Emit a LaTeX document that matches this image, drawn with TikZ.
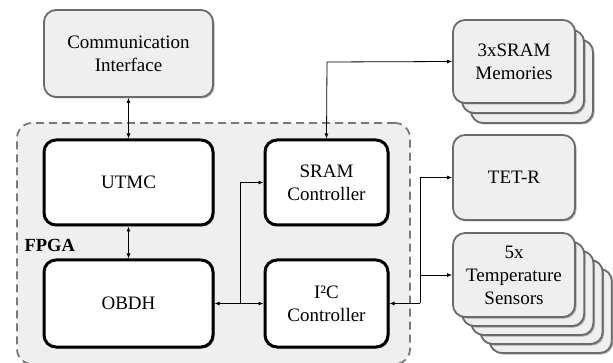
\documentclass[tikz,border=0pt]{standalone}
\usepackage{fontspec}
\setmainfont{Liberation Serif}
\usetikzlibrary{arrows.meta,shadows}
\definecolor{boxfill}{HTML}{EFEFEF}
\definecolor{boxline}{HTML}{6B6B6B}
\definecolor{dashline}{HTML}{7A7A7A}
\begin{document}
\begin{tikzpicture}[x=1pt,y=-1pt,
  txt/.style={font=\fontsize{19}{23}\selectfont, align=center},
  graybox/.style={txt, draw=boxline, fill=boxfill, line width=1.8pt, rounded corners=12pt,
     drop shadow={shadow xshift=1.5pt, shadow yshift=-1.5pt, opacity=0.3, fill=black}},
  blackbox/.style={txt, draw=black, fill=white, line width=3pt, rounded corners=12pt,
     drop shadow={shadow xshift=1.5pt, shadow yshift=-1.5pt, opacity=0.3, fill=black}},
  conn/.style={line width=0.8pt, {Latex[length=5pt,width=4pt]}-{Latex[length=5pt,width=4pt]}},
  oneway/.style={line width=0.8pt, -{Latex[length=5pt,width=4pt]}},
  plain/.style={line width=0.8pt}
]
\useasboundingbox (0,0) rectangle (613,363);
\begin{scope}
\clip (0,0) rectangle (613,363);
% FPGA region
\node[draw=dashline, fill=boxfill, line width=1.8pt, dash pattern=on 8pt off 5pt,
      rounded corners=15pt, minimum width=393pt, minimum height=241pt, inner sep=0pt]
      (fpga) at (213.5,243.5) {};
\end{scope}
\node[font=\fontsize{18.5}{22}\selectfont\bfseries, anchor=west] (fpgalabel) at (21,245) {FPGA};

% Communication interface
\node[graybox, minimum width=169pt, minimum height=87pt] (comm) at (128.5,53.5) {Communication\\Interface};

% inner blocks
\node[blackbox, minimum width=169pt, minimum height=85pt] (utmc) at (128.5,182.5) {UTMC};
\node[blackbox, minimum width=169pt, minimum height=87pt] (obdh) at (128.5,303.5) {OBDH};
\node[blackbox, minimum width=123pt, minimum height=85pt] (sramc) at (326.5,182.5) {SRAM\\Controller};
\node[blackbox, minimum width=123pt, minimum height=87pt] (i2c) at (326.5,303.5) {I²C\\Controller};

% SRAM memories stack
\foreach \k in {2,1} {
  \node[graybox, minimum width=122pt, minimum height=83pt] (mem\k) at (514+9*\k,61.5+10*\k) {};
}
\node[graybox, minimum width=122pt, minimum height=83pt] (mem) at (514,61.5) {3xSRAM\\Memories};

% TET-R
\node[graybox, minimum width=122pt, minimum height=85pt] (tetr) at (514,177.5) {TET-R};

% Temperature sensors stack
\foreach \k in {4,3,2,1} {
  \node[graybox, minimum width=122pt, minimum height=84pt] (temp\k) at (514+9.2*\k,275+9*\k) {};
}
\node[graybox, minimum width=122pt, minimum height=84pt] (temp) at (514,275) {5x\\Temperature\\Sensors};

% connectors
\draw[conn] (comm.south) -- (utmc.north);
\draw[conn] (utmc.south) -- (obdh.north);
\draw[conn] (obdh.east) -- (i2c.west);
\coordinate (br1) at (240,303.5);
\draw[oneway] (br1) |- (sramc.west);
\coordinate (br2) at (327,62);
\draw[conn] (sramc.north) -- (br2) -- (mem.west);
\coordinate (br3) at (420,303.5);
\draw[oneway] (br3) -- (i2c.east);
\draw[plain] (br3) -- (420,177.5);
\draw[oneway] (420,177.5) -- (tetr.west);
\draw[oneway] (420,275) -- (temp.west);
\end{tikzpicture}
\end{document}
